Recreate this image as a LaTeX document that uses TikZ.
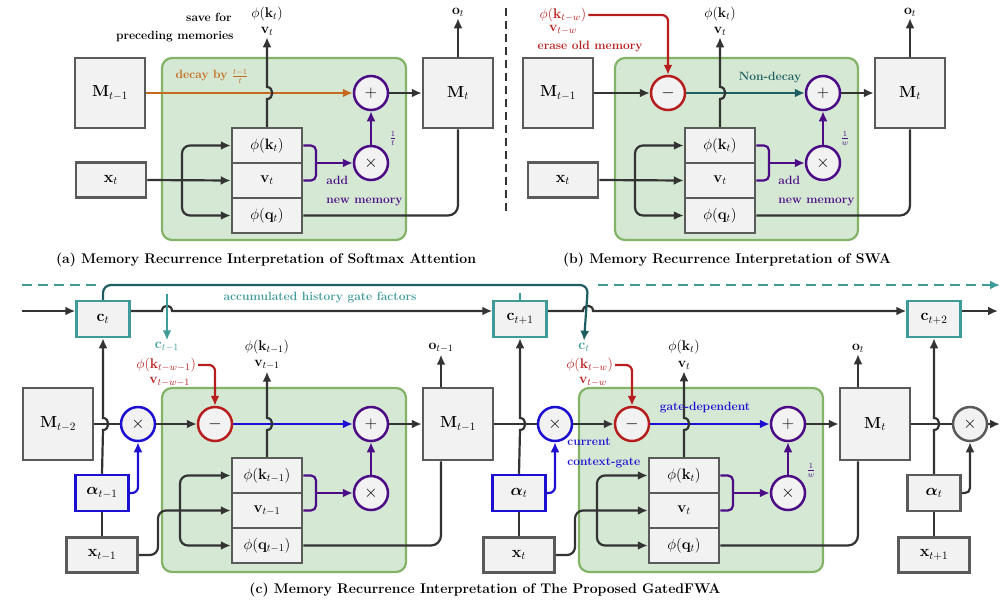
\RequirePackage{fix-cm}
\documentclass[tikz,border=0pt]{standalone}
\usepackage{amsmath,amssymb,bm}
\usetikzlibrary{arrows.meta,positioning,calc}
\definecolor{boxfill}{HTML}{F2F2F2}
\definecolor{boxline}{HTML}{5A5A5A}
\definecolor{greenfill}{HTML}{D5E8D4}
\definecolor{greenline}{HTML}{82B366}
\definecolor{orangec}{HTML}{C46A1C}
\definecolor{purplec}{HTML}{4B0C85}
\definecolor{redc}{HTML}{B81D1D}
\definecolor{bluec}{HTML}{1C0FD1}
\definecolor{tealc}{HTML}{3F9A9A}
\definecolor{dtealc}{HTML}{1E5E62}
\tikzset{>=latex}

\begin{document}
\begin{tikzpicture}[x=1pt,y=-1pt, font=\fontsize{12}{14}\selectfont\bfseries,
    line width=2.2pt, draw=black!80,
    box/.style={draw=boxline,fill=boxfill,line width=2.5pt,inner sep=0pt,font=\fontsize{16}{18}\selectfont},
    mem/.style={box,minimum width=70,minimum height=70},
    inbox/.style={box,minimum width=70,minimum height=35},
    cell/.style={box,minimum width=70,minimum height=35,font=\fontsize{15}{17}\selectfont},
    gbox/.style={box,minimum width=53,minimum height=36},
    op/.style={circle,draw,fill=boxfill,line width=2.5pt,minimum size=34,inner sep=0pt,font=\fontsize{17}{17}\selectfont},
    bg/.style={draw=greenline,fill=greenfill,line width=2.2pt,rounded corners=10},
    arr/.style={-{Latex[length=10pt,width=9pt]}},
    dbl/.style={{Latex[length=10pt,width=9pt]}-{Latex[length=10pt,width=9pt]}},
    lab/.style={inner sep=1pt,font=\fontsize{14}{16}\selectfont},
    captext/.style={font=\fontsize{14}{16}\selectfont\bfseries}]
  \useasboundingbox (0,0) rectangle (1006,606);

  % (a) softmax attention
  \draw[bg] (162,58) rectangle (406,240);
  \node[mem]  (Ma0) at (110,93)  {$\mathbf{M}_{t-1}$};
  \node[inbox] (xa) at (111,180) {$\mathbf{x}_t$};
  \node[cell] (ka) at (267,145.5) {$\phi(\mathbf{k}_t)$};
  \node[cell] (va) at (267,180.5) {$\mathbf{v}_t$};
  \node[cell] (qa) at (267,215.5) {$\phi(\mathbf{q}_t)$};
  \node[op,draw=purplec] (pa) at (371,93)  {$+$};
  \node[op,draw=purplec] (ta) at (371,163) {$\times$};
  \node[mem]  (Ma1) at (458,93)  {$\mathbf{M}_t$};
  \node[lab]  (oa)  at (458,12)  {$\mathbf{o}_t$};
  \node[lab]  (lka) at (267,14)  {$\phi(\mathbf{k}_t)$};
  \node[lab]  (lva) at (267,31)  {$\mathbf{v}_t$};
  \node[anchor=east] (sva) at (236,17) {save for};
  \node[anchor=east] (pma) at (238,37) {preceding memories};
  \node[orangec] (dca) at (212,76) {decay by $\frac{t-1}{t}$};
  \node[purplec] (ita) at (393,138) {$\frac{1}{t}$};
  \node[purplec,anchor=west] (ada) at (322,180) {add};
  \node[purplec,anchor=west] (nma) at (322,202) {new memory};

  \draw[arr,orangec] (Ma0.east) -- (pa.west);
  \draw[arr] (ka.north) -- (267,99) .. controls (274,99) and (274,87) .. (267,87) -- (lva.south);
  \draw[arr] (pa) -- (Ma1);
  \draw[arr,purplec] (ta) -- (pa);
  \draw[purplec,rounded corners=5] (ka.east) -- (316,145.5) -- (316,180.5) -- (va.east);
  \draw[arr,purplec] (316,163) -- (ta.west);
  \draw[arr] (xa.east) -- (va.west);
  \draw[dbl,rounded corners=8] (ka.west) -| (182,180) |- (qa.west);
  \draw[rounded corners=10] (qa.east) -| (Ma1.south);
  \draw[arr] (Ma1.north) -- (oa.south);
  \node[captext] (capa) at (266,260) {(a) Memory Recurrence Interpretation of Softmax Attention};

  % separator
  \draw[dashed,dash pattern=on 8pt off 5pt] (506,8) -- (506,215);

  % (b) SWA
  \begin{scope}[xshift=452pt]
    \draw[bg] (163,58) rectangle (406,240);
    \node[mem]  (Mb0) at (106,93)  {$\mathbf{M}_{t-1}$};
    \node[inbox] (xb) at (111,180) {$\mathbf{x}_t$};
    \node[cell] (kb) at (268,145.5) {$\phi(\mathbf{k}_t)$};
    \node[cell] (vb) at (268,180.5) {$\mathbf{v}_t$};
    \node[cell] (qb) at (268,215.5) {$\phi(\mathbf{q}_t)$};
    \node[op,draw=redc] (mb) at (216,93) {$-$};
    \node[op,draw=purplec] (pb) at (371,93)  {$+$};
    \node[op,draw=purplec] (tb) at (371,163) {$\times$};
    \node[mem]  (Mb1) at (458,93)  {$\mathbf{M}_t$};
    \node[lab]  (ob)  at (458,12)  {$\mathbf{o}_t$};
    \node[lab]  (lkb) at (268,14)  {$\phi(\mathbf{k}_t)$};
    \node[lab]  (lvb) at (268,31)  {$\mathbf{v}_t$};
    \node[lab,redc] (rkb) at (111,15) {$\phi(\mathbf{k}_{t-w})$};
    \node[lab,redc] (rvb) at (111,30) {$\mathbf{v}_{t-w}$};
    \node[redc] (erb) at (138,47) {erase old memory};
    \node[dtealc] (ndb) at (318,78) {Non-decay};
    \node[purplec] (iwb) at (393,138) {$\frac{1}{w}$};
    \node[purplec,anchor=west] (adb) at (322,180) {add};
    \node[purplec,anchor=west] (nmb) at (322,202) {new memory};

    \draw[arr] (Mb0.east) -- (mb.west);
    \draw[arr,redc,rounded corners=6] (rkb.east) -| (mb.north);
    \draw[arr,dtealc] (mb.east) -- (pb.west);
    \draw[arr] (kb.north) -- (268,99) .. controls (275,99) and (275,87) .. (268,87) -- (lvb.south);
    \draw[arr] (pb) -- (Mb1);
    \draw[arr,purplec] (tb) -- (pb);
    \draw[purplec,rounded corners=5] (kb.east) -- (317,145.5) -- (317,180.5) -- (vb.east);
    \draw[arr,purplec] (317,163) -- (tb.west);
    \draw[arr] (xb.east) -- (vb.west);
    \draw[dbl,rounded corners=8] (kb.west) -| (183,180) |- (qb.west);
    \draw[rounded corners=10] (qb.east) -| (Mb1.south);
    \draw[arr] (Mb1.north) -- (ob.south);
    \node[captext] (capb) at (275,260) {(b) Memory Recurrence Interpretation of SWA};
  \end{scope}

  % (c) GatedFWA
  \node[mem,minimum height=72] (M0) at (58,424) {$\mathbf{M}_{t-2}$};
  \foreach \n/\m/\dx/\tc/\tn/\tw in {1/0/0/{t-1}/{t}/{t-w-1}, 2/1/417/{t}/{t+1}/{t-w}}{
    \begin{scope}[xshift=\dx pt]
      \draw[bg] (162,388) rectangle (406,572);
      \node[gbox,draw=tealc] (cb\n) at (103,319) {$\mathbf{c}_{\tn}$};
      \node[gbox,draw=bluec] (al\n) at (102,493) {$\bm{\alpha}_{\tc}$};
      \node[inbox,minimum width=71] (xc\n) at (102,555) {$\mathbf{x}_{\tc}$};
      \node[op,draw=bluec] (gx\n) at (138,424) {$\times$};
      \node[op,draw=redc]  (mn\n) at (215,424) {$-$};
      \node[cell] (k\n) at (267,475.5) {$\phi(\mathbf{k}_{\tc})$};
      \node[cell] (v\n) at (267,510.5) {$\mathbf{v}_{\tc}$};
      \node[cell] (q\n) at (267,545.5) {$\phi(\mathbf{q}_{\tc})$};
      \node[op,draw=purplec] (pl\n) at (371,424) {$+$};
      \node[op,draw=purplec] (tm\n) at (371,493) {$\times$};
      \node[mem,minimum height=72] (M\n) at (458,424) {$\mathbf{M}_{\tc}$};
      \node[lab] (o\n)  at (441,348) {$\mathbf{o}_{\tc}$};
      \node[lab] (lk\n) at (267,347) {$\phi(\mathbf{k}_{\tc})$};
      \node[lab] (lv\n) at (267,365) {$\mathbf{v}_{\tc}$};
      \node[lab,tealc] (lc\n) at (167,347) {$\mathbf{c}_{\tc}$};
      \node[lab,redc,anchor=east] (lr\n) at (198,365) {$\phi(\mathbf{k}_{\tw})$};
      \node[lab,redc,anchor=east] (lw\n) at (192,382) {$\mathbf{v}_{\tw}$};

      \draw (xc\n.north) -- (al\n.south);
      \draw[arr] (al\n.north) -- (103,430) .. controls (110,430) and (110,418) .. (103,418) -- (cb\n.south);
      \draw[arr,bluec,rounded corners=6] (al\n.east) -| (gx\n.south);
      \draw (M\m.east) -- (gx\n.west);
      \draw[arr] (gx\n) -- (mn\n);
      \draw[arr,redc,rounded corners=6] (lr\n.east) -| (mn\n.north);
      \draw[arr,bluec] (mn\n) -- (pl\n);
      \draw[arr] (pl\n) -- (M\n);
      \draw[arr,purplec] (tm\n) -- (pl\n);
      \draw[purplec,rounded corners=5] (k\n.east) -- (316,475.5) -- (316,510.5) -- (v\n.east);
      \draw[arr,purplec] (316,493) -- (tm\n.west);
      \draw[arr] (k\n.north) -- (267,430) .. controls (274,430) and (274,418) .. (267,418) -- (lv\n.south);
      \draw[dbl,rounded corners=8] (k\n.west) -| (180,510) |- (q\n.west);
      \draw[arr,rounded corners=8] (xc\n.east) -- (158,555) -- (158,510.5) -- (v\n.west);
      \draw[rounded corners=10] (q\n.east) -| ($(M\n.south)+(-17,0)$);
      \draw[arr] ($(M\n.north)+(-17,0)$) -- (o\n.south);
    \end{scope}
  }
  \node[bluec] (gd) at (705,408) {gate-dependent};
  \node[bluec,anchor=west] (cc1) at (563,442) {current};
  \node[bluec,anchor=west] (cc2) at (563,463) {context-gate};
  \node[purplec] (iwc) at (811,470) {$\frac{1}{w}$};

  % next step
  \node[gbox,draw=tealc] (cb3) at (934,319) {$\mathbf{c}_{t+2}$};
  \node[gbox] (al3) at (934,493) {$\bm{\alpha}_{t}$};
  \node[inbox,minimum width=71] (xc3) at (934,555) {$\mathbf{x}_{t+1}$};
  \node[op,draw=boxline] (gx3) at (970,424) {$\times$};
  \draw (xc3.north) -- (al3.south);
  \draw[arr] (al3.north) -- (934,430) .. controls (941,430) and (941,418) .. (934,418) -- (cb3.south);
  \draw[arr,rounded corners=5] (al3.east) -| (gx3.south);
  \draw (M2.east) -- (gx3.west);
  \draw[arr] (gx3.east) -- (1000,424);

  % gate factor row
  \draw[arr] (22,311) -- ([yshift=8pt]cb1.west);
  \draw[arr] ([yshift=8pt]cb1.east) -- (162,311) .. controls (162,304) and (172,304) .. (172,311) -- ([yshift=8pt]cb2.west);
  \draw[arr] ([yshift=8pt]cb2.east) -- (583,311) .. controls (583,304) and (593,304) .. (593,311) -- ([yshift=8pt]cb3.west);
  \draw[arr] ([yshift=8pt]cb3.east) -- (998,311);
  \draw[tealc,dashed,dash pattern=on 10pt off 6pt] (22,285) -- (100,285);
  \draw[arr,tealc] (167,294) -- (lc1.north);
  \draw[tealc] (cb2.north) -- (520,293);
  \draw[arr,dtealc,rounded corners=8] (cb1.north) |- (588,285) -- (lc2.north);
  \draw[arr,tealc,dashed,dash pattern=on 10pt off 6pt] (598,285) -- (1000,285);
  \node[tealc] (ahg) at (320,297) {accumulated history gate factors};
  \node[captext] (capc) at (485,590) {(c) Memory Recurrence Interpretation of The Proposed GatedFWA};
\end{tikzpicture}
\end{document}
